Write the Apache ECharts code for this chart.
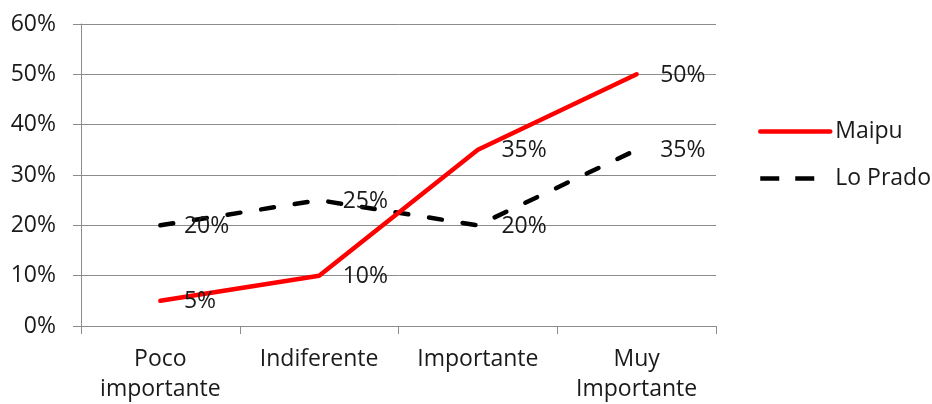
<!DOCTYPE html>
<html>
<head>
<meta charset="utf-8">
<script src="https://cdn.jsdelivr.net/npm/echarts@6/dist/echarts.min.js"></script>
<style>
  html, body { margin: 0; padding: 0; background: #fff; }
  #chart { width: 932px; height: 404px; }
</style>
</head>
<body>
<div id="chart"></div>
<script>
// Importance ratings by commune (percent of respondents)
const categories = ['Poco\nimportante', 'Indiferente', 'Importante', 'Muy\nImportante'];
const maipu = [5, 10, 35, 50];
const loPrado = [20, 25, 20, 35];
const seriesNames = ['Maipu', 'Lo Prado'];

const FONT = '"Open Sans", "Liberation Sans", sans-serif';
const TEXT = '#1a1a1a';
const GRID_GRAY = '#8c8c8c';
const FS = 23;
const CLEAR = 'rgba(0,0,0,0)';

const chart = echarts.init(document.getElementById('chart'), null, { renderer: 'canvas' });

const valueLabel = {
  show: true,
  position: 'right',
  distance: 23,
  offset: [0, 1],
  formatter: p => p.value + '%',
  color: TEXT,
  fontFamily: FONT,
  fontSize: FS
};

chart.setOption({
  animation: false,
  backgroundColor: '#fff',
  grid: { left: 81, right: 216, top: 24, bottom: 78, containLabel: false },
  legend: {
    orient: 'vertical',
    left: 758,
    top: 120,
    padding: 0,
    itemWidth: 70,
    itemHeight: 14,
    itemGap: 24,
    itemStyle: { color: CLEAR, borderWidth: 0 },
    lineStyle: { width: 4.5 },
    textStyle: { color: TEXT, fontFamily: FONT, fontSize: FS },
    data: [
      { name: seriesNames[0] },
      { name: seriesNames[1], lineStyle: { type: [19, 16], cap: 'butt', width: 4.5 } }
    ]
  },
  xAxis: {
    type: 'category',
    data: categories,
    boundaryGap: true,
    axisLine: { show: true, lineStyle: { color: GRID_GRAY, width: 1 } },
    axisTick: { show: true, length: 8, lineStyle: { color: GRID_GRAY } },
    axisLabel: {
      color: TEXT,
      fontFamily: FONT,
      fontSize: FS,
      lineHeight: 30,
      margin: 18,
      interval: 0
    },
    splitLine: { show: false }
  },
  yAxis: {
    type: 'value',
    min: 0,
    max: 60,
    interval: 10,
    axisLine: { show: true, lineStyle: { color: GRID_GRAY, width: 1 } },
    axisTick: { show: true, length: 8, lineStyle: { color: GRID_GRAY } },
    axisLabel: {
      formatter: '{value}%',
      color: TEXT,
      fontFamily: FONT,
      fontSize: FS,
      margin: 25
    },
    splitLine: { show: true, lineStyle: { color: GRID_GRAY, width: 1 } }
  },
  series: [
    {
      name: seriesNames[0],
      type: 'line',
      data: maipu,
      symbol: 'circle',
      symbolSize: 1,
      showSymbol: true,
      itemStyle: { color: CLEAR, borderWidth: 0 },
      lineStyle: { color: '#ff0000', width: 4.5, cap: 'round', join: 'round' },
      label: valueLabel,
      z: 3
    },
    {
      name: seriesNames[1],
      type: 'line',
      data: loPrado,
      symbol: 'circle',
      symbolSize: 1,
      showSymbol: true,
      itemStyle: { color: CLEAR, borderWidth: 0 },
      lineStyle: { color: '#000000', width: 4.5, type: [13, 21], cap: 'round', join: 'round' },
      label: valueLabel,
      z: 2
    }
  ]
});
</script>
</body>
</html>
